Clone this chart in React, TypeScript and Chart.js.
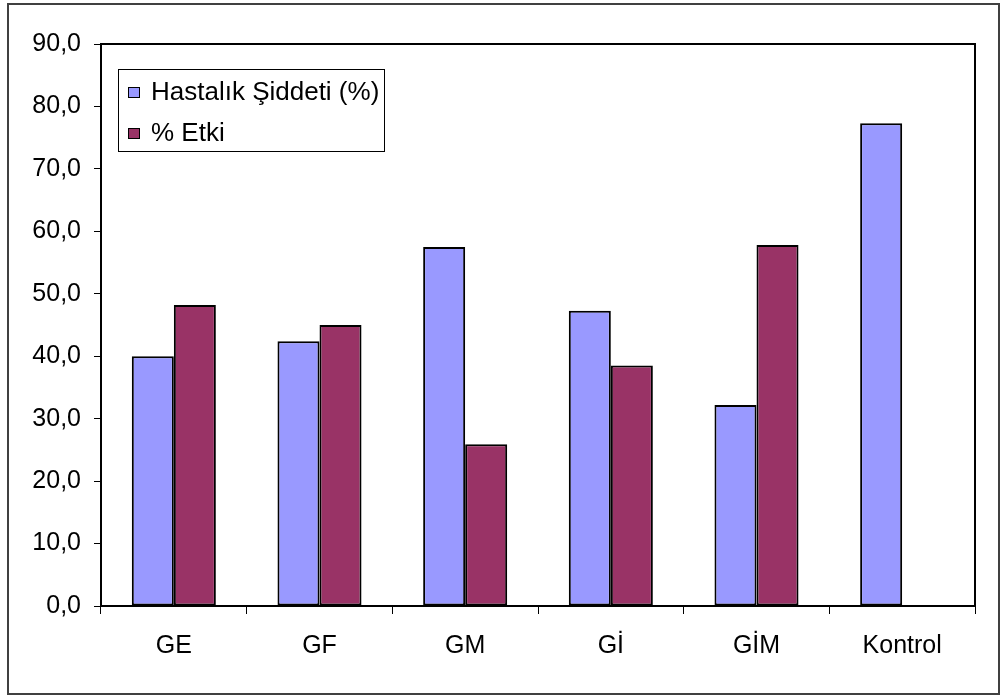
import React, { useEffect, useRef } from "react";
import { Chart, registerables } from "chart.js";

Chart.register(...registerables);

const categories = ["GE", "GF", "GM", "Gİ", "GİM", "Kontrol"];
const severity = [40.0, 42.4, 57.5, 47.3, 32.2, 77.3];
const effect: (number | null)[] = [48.2, 45.0, 25.9, 38.5, 57.8, null];
const yTickLabels = ["0,0", "10,0", "20,0", "30,0", "40,0", "50,0", "60,0", "70,0", "80,0", "90,0"];

const seriesNames = ["Hastalık Şiddeti (%)", "% Etki"];
const seriesColors = ["#9999FF", "#993366"];

const FONT = "'Liberation Sans', Arial, sans-serif";

// Outer frame, plot-area box and an inset legend box
const framePlugin = {
  id: "frameAndLegend",
  beforeDraw(chart: any) {
    const ctx = chart.ctx;
    ctx.save();
    ctx.fillStyle = "#ffffff";
    ctx.fillRect(0, 0, chart.width, chart.height);
    ctx.strokeStyle = "#404040";
    ctx.lineWidth = 2;
    ctx.strokeRect(8, 4, 991, 690);
    ctx.restore();
  },
  afterDraw(chart: any) {
    const ctx = chart.ctx;
    const a = chart.chartArea;
    ctx.save();
    ctx.strokeStyle = "#000000";
    ctx.lineWidth = 2;
    ctx.strokeRect(a.left, a.top, a.right - a.left, a.bottom - a.top);

    // legend
    const lx = 118.5, ly = 69.5, lw = 266, lh = 82;
    ctx.fillStyle = "#ffffff";
    ctx.fillRect(lx, ly, lw, lh);
    ctx.strokeStyle = "#000000";
    ctx.lineWidth = 1;
    ctx.strokeRect(lx, ly, lw, lh);
    ctx.font = `26px ${FONT}`;
    ctx.textBaseline = "alphabetic";
    ctx.textAlign = "left";
    chart.data.datasets.forEach((ds: any, i: number) => {
      const cy = 92 + i * 41;
      ctx.fillStyle = ds.backgroundColor;
      ctx.fillRect(128.5, cy - 4.5, 11, 10);
      ctx.strokeStyle = "#000000";
      ctx.lineWidth = 1;
      ctx.strokeRect(128.5, cy - 4.5, 11, 10);
      ctx.fillStyle = "#000000";
      ctx.fillText(ds.label, 151, cy + 7.5);
    });
    ctx.restore();
  },
};

export default function App() {
  const canvasRef = useRef<HTMLCanvasElement | null>(null);

  useEffect(() => {
    if (!canvasRef.current) return;
    const chart = new Chart(canvasRef.current, {
      type: "bar",
      data: {
        labels: categories,
        datasets: [
          {
            label: seriesNames[0],
            data: severity,
            backgroundColor: seriesColors[0],
            borderColor: "#000000",
            borderWidth: 2,
            borderSkipped: false,
          },
          {
            label: seriesNames[1],
            data: effect,
            backgroundColor: seriesColors[1],
            borderColor: "#000000",
            borderWidth: 2,
            borderSkipped: false,
          },
        ],
      },
      options: {
        responsive: false,
        animation: false,
        devicePixelRatio: 1,
        layout: { padding: { top: 44, right: 25, left: 0, bottom: 0 } },
        datasets: { bar: { categoryPercentage: 0.577, barPercentage: 1.0 } },
        plugins: {
          legend: { display: false },
          tooltip: { enabled: false },
        },
        scales: {
          x: {
            offset: true,
            grid: {
              offset: true,
              drawOnChartArea: false,
              tickLength: 8,
              color: "#000000",
              lineWidth: 1,
            },
            border: { display: false },
            ticks: {
              color: "#000000",
              font: { family: FONT, size: 25 },
              padding: 17,
              maxRotation: 0,
            },
            afterFit(scale: any) {
              scale.height = 89;
            },
          },
          y: {
            min: 0,
            max: 90,
            grid: {
              drawOnChartArea: false,
              tickLength: 7,
              color: "#000000",
              lineWidth: 1,
            },
            border: { display: false },
            ticks: {
              stepSize: 10,
              color: "#000000",
              font: { family: FONT, size: 25 },
              padding: 13,
              callback: (_v: any, i: number) => yTickLabels[i],
            },
            afterFit(scale: any) {
              scale.width = 101;
            },
          },
        },
      },
      plugins: [framePlugin],
    });
    return () => chart.destroy();
  }, []);

  return (
    <div style={{ position: "fixed", left: 0, top: 0, width: 1000, height: 695, background: "#fff" }}>
      <canvas ref={canvasRef} width={1000} height={695} style={{ display: "block" }} />
    </div>
  );
}
